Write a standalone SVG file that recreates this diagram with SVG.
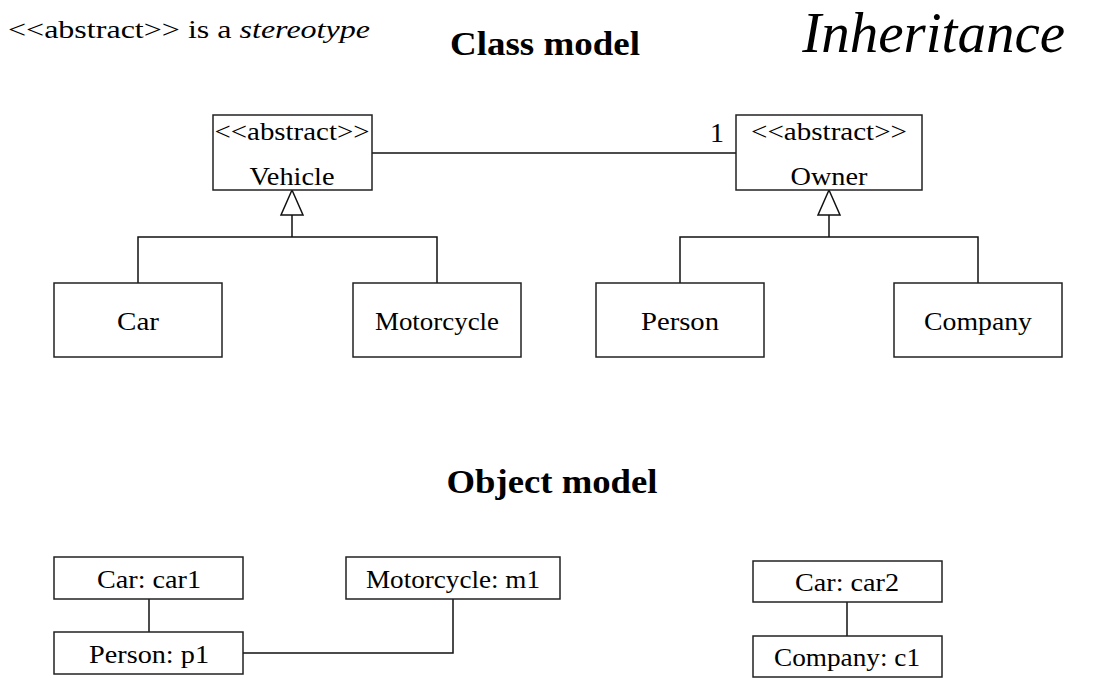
<svg xmlns="http://www.w3.org/2000/svg" width="1113" height="698" viewBox="0 0 1113 698">
<style>
text{font-family:"Liberation Serif","DejaVu Serif",serif;fill:#000}
.n{font-size:26px;text-anchor:middle}
.box{fill:#fff;stroke:#222;stroke-width:1.5}
.c{fill:none;stroke:#111;stroke-width:1.5}
.tri{fill:#fff;stroke:#111;stroke-width:1.5}
.h{font-size:33px;font-weight:bold;text-anchor:middle}
</style>
<rect width="1113" height="698" fill="#fff"/>
<text x="8" y="38" style="font-size:26px" textLength="362" lengthAdjust="spacingAndGlyphs">&lt;&lt;abstract&gt;&gt; is a <tspan font-style="italic">stereotype</tspan></text>
<text x="545" y="55" class="h" textLength="190" lengthAdjust="spacingAndGlyphs">Class model</text>
<text x="1065" y="52" style="font-size:57px;font-style:italic;text-anchor:end">Inheritance</text>
<text x="552" y="493" class="h" textLength="211" lengthAdjust="spacingAndGlyphs">Object model</text>
<g id="connectors">
<line class="c" x1="372" y1="153" x2="736" y2="153"/>
<path class="c" d="M292 215V237M138 283V237H437V283"/>
<polygon class="tri" points="292,190 281,215 303,215"/>
<path class="c" d="M829 215V237M680 283V237H978V283"/>
<polygon class="tri" points="829,190 818,215 840,215"/>
<line class="c" x1="149" y1="599" x2="149" y2="632"/>
<path class="c" d="M243 653H453V599"/>
<line class="c" x1="847" y1="602" x2="847" y2="636"/>
</g>
<text x="717" y="142" style="font-size:28px;text-anchor:middle">1</text>
<g id="vehicle"><rect class="box" x="213" y="115" width="159" height="75"/><text class="n" x="292" y="140" textLength="155" lengthAdjust="spacingAndGlyphs">&lt;&lt;abstract&gt;&gt;</text><text class="n" x="292" y="185" textLength="85" lengthAdjust="spacingAndGlyphs">Vehicle</text></g>
<g id="owner"><rect class="box" x="736" y="115" width="186" height="75"/><text class="n" x="829" y="140" textLength="156" lengthAdjust="spacingAndGlyphs">&lt;&lt;abstract&gt;&gt;</text><text class="n" x="829" y="185" textLength="77" lengthAdjust="spacingAndGlyphs">Owner</text></g>
<g id="car"><rect class="box" x="54" y="283" width="168" height="74"/><text class="n" x="138" y="330" textLength="42" lengthAdjust="spacingAndGlyphs">Car</text></g>
<g id="motorcycle"><rect class="box" x="353" y="283" width="168" height="74"/><text class="n" x="437" y="330" textLength="124" lengthAdjust="spacingAndGlyphs">Motorcycle</text></g>
<g id="person"><rect class="box" x="596" y="283" width="168" height="74"/><text class="n" x="680" y="330" textLength="78" lengthAdjust="spacingAndGlyphs">Person</text></g>
<g id="company"><rect class="box" x="894" y="283" width="168" height="74"/><text class="n" x="978" y="330" textLength="108" lengthAdjust="spacingAndGlyphs">Company</text></g>
<g id="car1"><rect class="box" x="54" y="557" width="189" height="42"/><text class="n" x="149" y="588" textLength="104" lengthAdjust="spacingAndGlyphs">Car: car1</text></g>
<g id="p1"><rect class="box" x="54" y="632" width="189" height="42"/><text class="n" x="149" y="663" textLength="120" lengthAdjust="spacingAndGlyphs">Person: p1</text></g>
<g id="m1"><rect class="box" x="346" y="557" width="214" height="42"/><text class="n" x="453" y="588" textLength="174" lengthAdjust="spacingAndGlyphs">Motorcycle: m1</text></g>
<g id="car2"><rect class="box" x="753" y="561" width="189" height="41"/><text class="n" x="847" y="591" textLength="104" lengthAdjust="spacingAndGlyphs">Car: car2</text></g>
<g id="c1"><rect class="box" x="753" y="636" width="189" height="41"/><text class="n" x="847" y="666" textLength="146" lengthAdjust="spacingAndGlyphs">Company: c1</text></g>
</svg>
